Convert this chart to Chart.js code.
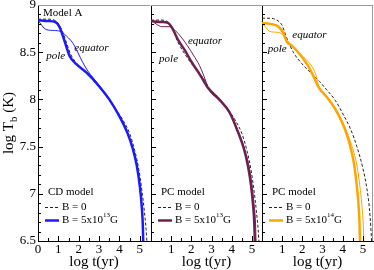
<!DOCTYPE html>
<html>
<head>
<meta charset="utf-8">
<script src="https://cdn.jsdelivr.net/npm/chart.js@4"></script>
<style>
  body { margin: 0; background: #fff; }
  #wrap { position: relative; width: 374px; height: 270px; }
  #wrap canvas { position: absolute; left: 0; top: 0; }
</style>
</head>
<body>
<div id="wrap">
  <canvas id="cdChart" width="374" height="270"></canvas>
  <canvas id="pcChart" width="374" height="270"></canvas>
  <canvas id="pc14Chart" width="374" height="270"></canvas>
</div>
<script>
// axis ticks
const ageTicks = [0, 1, 2, 3, 4, 5];
const tempTicks = [6.5, 7, 7.5, 8, 8.5, 9];

// panel 1: CD model, B = 5x10^13 G
const cdZeroAge  = [0, 0.5, 0.8, 1.0, 1.2, 1.4, 1.6, 1.9, 2.3, 2.8, 3.3, 3.8, 4.2, 4.5, 4.75, 4.95, 5.1, 5.22, 5.31, 5.36];
const cdZeroTemp = [8.85, 8.85, 8.84, 8.8, 8.72, 8.6, 8.48, 8.38, 8.29, 8.18, 8.05, 7.9, 7.77, 7.64, 7.46, 7.26, 7.04, 6.82, 6.62, 6.45];
const cdPoleAge  = [0, 0.5, 0.85, 1.05, 1.3, 1.55, 1.9, 2.4, 3.0, 3.5, 4.0, 4.4, 4.65, 4.85, 5.0, 5.1, 5.15, 5.17];
const cdPoleTemp = [8.84, 8.83, 8.82, 8.77, 8.62, 8.46, 8.37, 8.28, 8.14, 8.0, 7.82, 7.64, 7.48, 7.3, 7.08, 6.85, 6.65, 6.45];
const cdEqAge    = [0, 0.2, 0.4, 0.8, 1.1, 1.3, 1.5, 1.7, 1.95, 2.2, 2.45, 2.7, 3.0, 3.5, 4.0, 4.4, 4.65, 4.85, 5.0, 5.1, 5.15, 5.17];
const cdEqTemp   = [8.84, 8.78, 8.74, 8.73, 8.72, 8.69, 8.65, 8.6, 8.5, 8.39, 8.3, 8.23, 8.15, 8.0, 7.82, 7.64, 7.48, 7.3, 7.08, 6.85, 6.65, 6.45];

// panel 2: PC model, B = 5x10^13 G
const pcZeroAge  = [0, 0.5, 0.78, 1.02, 1.35, 1.77, 2.18, 2.67, 2.85, 3.3, 3.8, 4.2, 4.5, 4.75, 4.95, 5.1, 5.22, 5.31, 5.36];
const pcZeroTemp = [8.84, 8.84, 8.83, 8.77, 8.6, 8.45, 8.33, 8.2, 8.13, 8.03, 7.9, 7.77, 7.64, 7.46, 7.26, 7.04, 6.82, 6.62, 6.45];
const pcPoleAge  = [0, 0.5, 0.84, 1.09, 1.34, 1.68, 2.0, 2.43, 2.83, 3.42, 3.9, 4.3, 4.6, 4.8, 4.95, 5.05, 5.12, 5.15];
const pcPoleTemp = [8.83, 8.82, 8.81, 8.74, 8.63, 8.52, 8.4, 8.26, 8.12, 7.99, 7.86, 7.66, 7.48, 7.3, 7.1, 6.9, 6.68, 6.45];
const pcEqAge    = [0, 0.25, 0.55, 0.95, 1.2, 1.5, 1.8, 2.1, 2.4, 2.6, 2.75, 2.85, 3.42, 3.9, 4.3, 4.6, 4.85, 5.0, 5.1, 5.18, 5.21];
const pcEqTemp   = [8.84, 8.8, 8.77, 8.77, 8.73, 8.66, 8.57, 8.47, 8.36, 8.26, 8.17, 8.11, 7.99, 7.86, 7.67, 7.5, 7.3, 7.1, 6.9, 6.68, 6.45];

// panel 3: PC model, B = 5x10^14 G
const pc14ZeroAge  = [0, 0.4, 0.73, 0.98, 1.23, 1.55, 1.97, 2.47, 2.85, 3.13, 3.63, 4.05, 4.4, 4.7, 5.0, 5.2, 5.32, 5.4, 5.44];
const pc14ZeroTemp = [8.86, 8.86, 8.84, 8.79, 8.65, 8.5, 8.38, 8.27, 8.19, 8.12, 7.99, 7.83, 7.68, 7.5, 7.27, 7.05, 6.85, 6.62, 6.45];
const pc14PoleAge  = [0, 0.4, 0.82, 1.07, 1.23, 1.48, 1.9, 2.3, 2.65, 2.8, 3.23, 3.65, 3.98, 4.2, 4.4, 4.55, 4.68, 4.77, 4.83, 4.86];
const pc14PoleTemp = [8.81, 8.8, 8.77, 8.7, 8.61, 8.57, 8.47, 8.35, 8.2, 8.13, 8.02, 7.89, 7.75, 7.63, 7.48, 7.33, 7.12, 6.92, 6.7, 6.45];
const pc14EqAge    = [0, 0.2, 0.38, 0.8, 1.0, 1.15, 1.4, 1.8, 2.2, 2.5, 2.7, 2.8, 3.23, 3.65, 4.0, 4.3, 4.55, 4.72, 4.85, 4.95, 5.02, 5.05];
const pc14EqTemp   = [8.81, 8.76, 8.72, 8.71, 8.69, 8.65, 8.58, 8.5, 8.42, 8.34, 8.24, 8.14, 8.03, 7.9, 7.76, 7.6, 7.44, 7.28, 7.08, 6.88, 6.66, 6.45];

const serif = '"Liberation Serif", "Times New Roman", serif';
const Y_BOX = 30;   // room for the y tick labels
const X_BOX = 24;   // room for the x tick labels

function pts(xs, ys) {
    return xs.map((x, i) => ({ x: x, y: ys[i] }));
}

function fitScale(s) {
    if (s.isHorizontal()) s.height = X_BOX; else s.width = Y_BOX;
    s.paddingTop = s.paddingBottom = s.paddingLeft = s.paddingRight = 0;
}

// draws inward ticks, the frame, the labels and the legend of one panel
const panelDecor = {
    id: 'panelDecor',
    afterDraw(chart, args, p) {
        const { ctx, chartArea: a, scales: { x, y } } = chart;
        const ds = chart.data.datasets;
        ctx.save();

        ctx.strokeStyle = '#000';
        ctx.lineWidth = 1;
        ctx.beginPath();
        for (let i = 1; i < 11; i++) {
            const px = Math.round(x.getPixelForValue(i / 2)) + 0.5;
            const len = i % 2 === 0 ? 5 : 3;
            ctx.moveTo(px, a.bottom);
            ctx.lineTo(px, a.bottom - len);
        }
        for (let i = 66; i < 90; i++) {
            const py = Math.round(y.getPixelForValue(i / 10)) + 0.5;
            const len = i % 5 === 0 ? 5 : 3;
            ctx.moveTo(a.left, py);
            ctx.lineTo(a.left + len, py);
        }
        ctx.stroke();

        ctx.strokeStyle = '#999';
        ctx.beginPath();
        ctx.moveTo(a.left, a.top + 0.5);
        ctx.lineTo(a.right, a.top + 0.5);
        if (p.last) {
            ctx.moveTo(a.right - 0.5, a.top);
            ctx.lineTo(a.right - 0.5, a.bottom);
        }
        ctx.stroke();

        ctx.fillStyle = '#000';
        ctx.textBaseline = 'middle';
        ctx.textAlign = 'left';
        ctx.font = 'italic 11px ' + serif;
        ctx.fillText('pole', x.getPixelForValue(p.poleAt[0]), y.getPixelForValue(p.poleAt[1]));
        ctx.fillText('equator', x.getPixelForValue(p.eqAt[0]), y.getPixelForValue(p.eqAt[1]));
        if (p.note) {
            ctx.font = '11px ' + serif;
            ctx.fillText(p.note, a.left + 5, a.top + 8);
        }

        // legend
        ctx.font = '11px ' + serif;
        ctx.fillText(p.model, a.left + 10, a.bottom - 49);
        const rows = [[ds[2], a.bottom - 34], [ds[0], a.bottom - 21]];
        rows.forEach(([d, ry]) => {
            ctx.strokeStyle = d.borderColor;
            ctx.lineWidth = d.borderWidth;
            ctx.setLineDash(d.borderDash || []);
            ctx.beginPath();
            ctx.moveTo(a.left + 7, ry + 0.5);
            ctx.lineTo(a.left + 21, ry + 0.5);
            ctx.stroke();
        });
        ctx.setLineDash([]);
        const tx = a.left + 24;
        ctx.fillText('B = 0', tx, rows[0][1]);
        const base = 'B = 5x10';
        ctx.fillText(base, tx, rows[1][1]);
        let w = ctx.measureText(base).width;
        ctx.font = '7px ' + serif;
        ctx.fillText(p.field, tx + w, rows[1][1] - 5);
        w += ctx.measureText(p.field).width;
        ctx.font = '11px ' + serif;
        ctx.fillText('G', tx + w, rows[1][1]);

        // axis titles
        ctx.font = '15px ' + serif;
        ctx.textAlign = 'center';
        ctx.textBaseline = 'alphabetic';
        ctx.fillText('log t(yr)', (a.left + a.right) / 2, 266);
        if (p.yTitle) {
            ctx.translate(13, (a.top + a.bottom) / 2);
            ctx.rotate(-Math.PI / 2);
            ctx.textAlign = 'left';
            const parts = ['log T', 'b', ' (K)'];
            ctx.font = '15px ' + serif;
            const w1 = ctx.measureText(parts[0]).width;
            const w3 = ctx.measureText(parts[2]).width;
            ctx.font = '11px ' + serif;
            const w2 = ctx.measureText(parts[1]).width;
            let cx = -(w1 + w2 + w3) / 2;
            ctx.font = '15px ' + serif;
            ctx.fillText(parts[0], cx, 0);
            cx += w1;
            ctx.font = '11px ' + serif;
            ctx.fillText(parts[1], cx, 4);
            cx += w2;
            ctx.font = '15px ' + serif;
            ctx.fillText(parts[2], cx, 0);
        }
        ctx.restore();
    }
};

function makePanel(canvasId, p, zero, pole, eq) {
    const tickFont = { family: serif, size: 13 };
    return new Chart(document.getElementById(canvasId), {
        type: 'line',
        data: {
            datasets: [
                { label: 'pole', data: pole, borderColor: p.color, borderWidth: 2.5 },
                { label: 'equator', data: eq, borderColor: p.color, borderWidth: 1 },
                { label: 'B = 0', data: zero, borderColor: '#222', borderWidth: 1, borderDash: [3, 2] }
            ]
        },
        options: {
            responsive: false,
            devicePixelRatio: 1,
            animation: false,
            layout: { padding: { left: p.left - Y_BOX, right: 374 - p.right, top: 5, bottom: 29 - X_BOX } },
            elements: {
                point: { radius: 0 },
                line: { cubicInterpolationMode: 'monotone', fill: false }
            },
            scales: {
                x: {
                    type: 'linear', min: 0, max: 5.5,
                    afterFit: fitScale,
                    afterBuildTicks: s => { s.ticks = ageTicks.filter(v => p.yTitle || v > 0).map(v => ({ value: v })); },
                    grid: { display: false, drawTicks: false },
                    border: { color: '#000', width: 1 },
                    ticks: { color: '#000', font: tickFont, padding: 1, maxRotation: 0, autoSkip: false, callback: v => String(v) }
                },
                y: {
                    type: 'linear', min: 6.5, max: 9,
                    afterFit: fitScale,
                    afterBuildTicks: s => { s.ticks = tempTicks.map(v => ({ value: v })); },
                    grid: { display: false, drawTicks: false },
                    border: { color: '#000', width: 1 },
                    ticks: { display: !!p.yTitle, color: '#000', font: tickFont, padding: 2, autoSkip: false, callback: v => String(v) }
                }
            },
            plugins: {
                legend: { display: false },
                tooltip: { enabled: false },
                panelDecor: p
            }
        },
        plugins: [panelDecor]
    });
}

makePanel('cdChart',
    { left: 38, right: 150, color: '#1a1aff', model: 'CD model', field: '13', yTitle: true, note: 'Model A',
      poleAt: [0.4, 8.46], eqAt: [1.78, 8.54] },
    pts(cdZeroAge, cdZeroTemp), pts(cdPoleAge, cdPoleTemp), pts(cdEqAge, cdEqTemp));

makePanel('pcChart',
    { left: 151, right: 262, color: '#6e1f4f', model: 'PC model', field: '13',
      poleAt: [0.4, 8.43], eqAt: [1.83, 8.62] },
    pts(pcZeroAge, pcZeroTemp), pts(pcPoleAge, pcPoleTemp), pts(pcEqAge, pcEqTemp));

makePanel('pc14Chart',
    { left: 262, right: 373, color: '#ffa500', model: 'PC model', field: '14', last: true,
      poleAt: [0.28, 8.53], eqAt: [1.5, 8.68] },
    pts(pc14ZeroAge, pc14ZeroTemp), pts(pc14PoleAge, pc14PoleTemp), pts(pc14EqAge, pc14EqTemp));
</script>
</body>
</html>
